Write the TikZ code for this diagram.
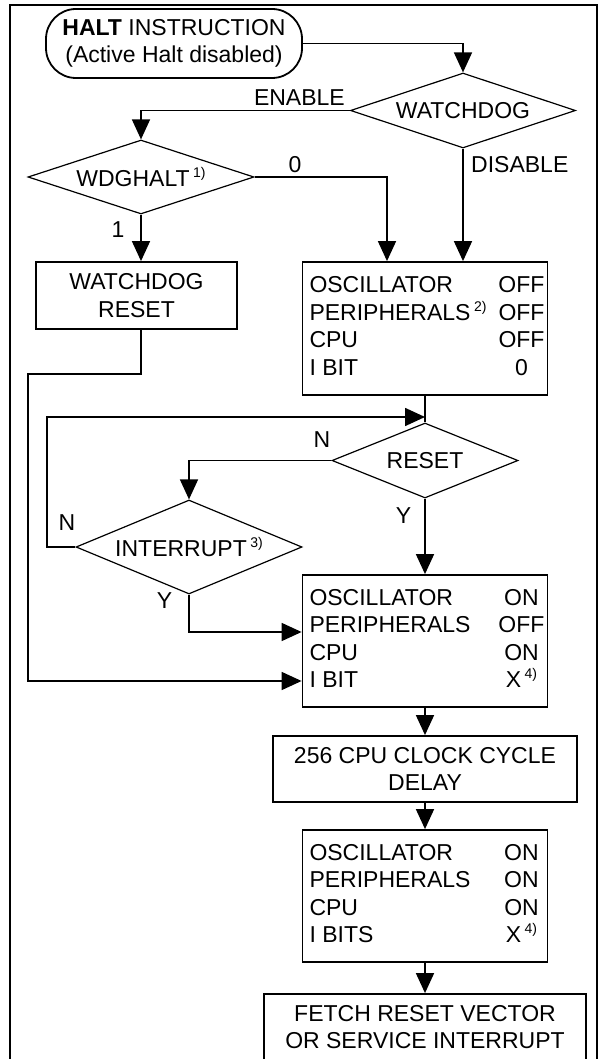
\documentclass[tikz,border=0pt]{standalone}
\usepackage{fontspec}
\setmainfont{Liberation Sans}
\usepackage{array}
\usetikzlibrary{shapes.geometric,arrows.meta}
\newcommand\fnote[1]{\hspace{3.5pt}\raisebox{9pt}{\fontsize{14}{14}\selectfont #1)}}
\newcommand\states[1]{\begin{tabular}{@{\hspace{7pt}}p{186pt}@{}>{\centering\arraybackslash}p{52pt}@{}}#1\end{tabular}}

\begin{document}
\begin{tikzpicture}[x=1pt, y=-1pt,
  every node/.style={font=\fontsize{23}{27.5}\selectfont},
  statebox/.style={draw, line width=1.8pt, inner sep=0pt, align=center},
  decision/.style={draw, diamond, aspect=3, line width=1.2pt, inner sep=0pt},
  lbl/.style={inner sep=0pt},
  flowline/.style={line width=1.6pt},
  flowarrow/.style={flowline, -{Triangle[length=20pt,width=18pt]}}
]
\useasboundingbox (0,0) rectangle (606,1059);
\clip (0,0) rectangle (606,1059);

% frame
\draw[line width=2pt] (10,1075) |- (597,5) -- (597,1075);

% nodes
\node[statebox, rounded corners=30pt, minimum width=256pt, minimum height=69pt] (halt) at (174,43.5) {\textbf{HALT} INSTRUCTION\\(Active Halt disabled)};
\node[decision, minimum width=225pt, minimum height=75pt] (wdog) at (463,110.5) {WATCHDOG};
\node[decision, minimum width=226pt, minimum height=74pt] (wdg) at (141,177) {WDGHALT\fnote{1}};
\node[statebox, minimum width=201pt, minimum height=67pt] (wdr) at (136.5,295.5) {WATCHDOG\\RESET};
\node[statebox, minimum width=245pt, minimum height=133pt] (off) at (425,328.5)
  {\states{OSCILLATOR & OFF\\ PERIPHERALS\fnote{2} & OFF\\ CPU & OFF\\ I BIT & 0}};
\node[decision, minimum width=186pt, minimum height=75pt] (rst) at (425,460.5) {RESET};
\node[decision, minimum width=226pt, minimum height=94pt] (int) at (189,547) {INTERRUPT\fnote{3}};
\node[statebox, minimum width=245pt, minimum height=132pt] (on) at (425,641)
  {\states{OSCILLATOR & ON\\ PERIPHERALS & OFF\\ CPU & ON\\ I BIT & X\fnote{4}}};
\node[statebox, minimum width=304pt, minimum height=66pt] (delay) at (425,769) {256 CPU CLOCK CYCLE\\DELAY};
\node[statebox, minimum width=245pt, minimum height=132pt] (run) at (425,896)
  {\states{OSCILLATOR & ON\\ PERIPHERALS & ON\\ CPU & ON\\ I BITS & X\fnote{4}}};
\node[statebox, minimum width=322pt, minimum height=66pt] (fetch) at (425,1027) {FETCH RESET VECTOR\\OR SERVICE INTERRUPT};

\coordinate (wdloop) at (28,374);
\coordinate (intloop) at (47,417);

% labels
\node[lbl, anchor=base east] (enable) at (345,106) {ENABLE};
\node[lbl, anchor=base west] (disable) at (471,173) {DISABLE};
\node[lbl, anchor=base] (zero) at (295,173) {0};
\node[lbl, anchor=base] (one) at (118,237) {1};
\node[lbl, anchor=base] (rstno) at (322,447) {N};
\node[lbl, anchor=base] (rstyes) at (403.5,523) {Y};
\node[lbl, anchor=base] (intno) at (67,530) {N};
\node[lbl, anchor=base] (intyes) at (164.5,608) {Y};

% connectors
\draw[flowarrow] (halt.east) -| (wdog.north);
\draw[flowarrow] (wdog.west) -| (wdg.north);
\draw[flowarrow] (wdog.south) -- (wdog.south |- off.north);
\draw[flowarrow] (wdg.east) -| ([xshift=-38pt]off.north);
\draw[flowarrow] (wdg.south) -- (wdg.south |- wdr.north);
\draw[flowarrow] (wdg.south |- wdr.south) |- (wdloop) |- ([yshift=-40pt]on.west);
\draw[flowline] (off.south) -- (rst.north);
\draw[flowarrow] (int.west) -| (intloop) -- (intloop -| rst.north);
\draw[flowarrow] (rst.west) -| (int.north);
\draw[flowarrow] (rst.south) -- (on.north);
\draw[flowarrow] (int.south) |- ([yshift=9pt]on.west);
\draw[flowarrow] (on.south) -- (delay.north);
\draw[flowarrow] (delay.south) -- (run.north);
\draw[flowarrow] (run.south) -- (fetch.north);
\end{tikzpicture}
\end{document}
